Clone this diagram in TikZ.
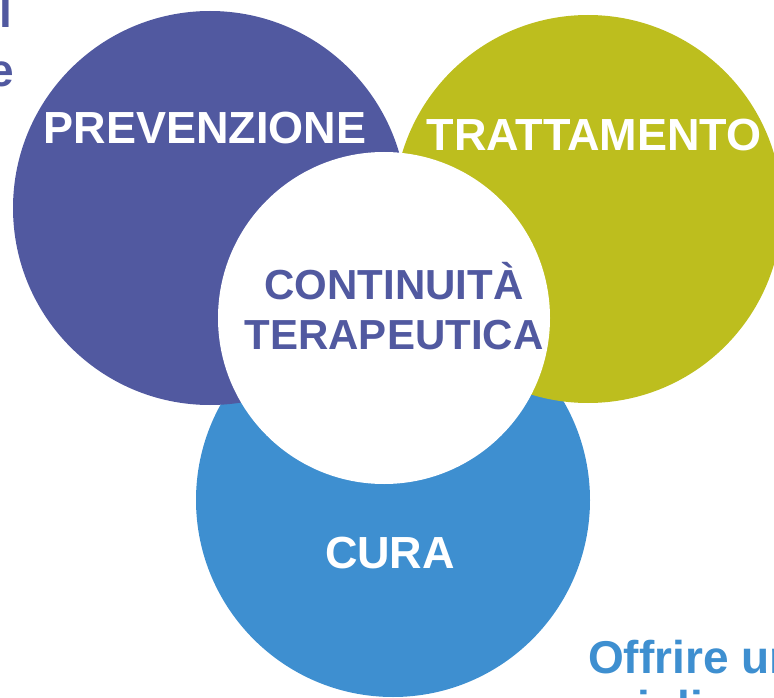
\documentclass[tikz,border=0pt]{standalone}
\usepackage{fontspec}
\setmainfont{Liberation Sans}
\definecolor{prevcol}{RGB}{81,89,160}
\definecolor{tratcol}{RGB}{189,190,30}
\definecolor{curacol}{RGB}{62,143,208}
\tikzset{
  bubble/.style={circle, draw=none, inner sep=0pt, minimum size=#1},
  bigword/.style={text=white, font=\bfseries\fontsize{45}{50}\selectfont},
  midword/.style={text=prevcol, align=center, font=\bfseries\fontsize{42}{50}\selectfont},
  sideword/.style={inner sep=0pt, font=\bfseries\fontsize{46}{50}\selectfont}
}
\begin{document}
\begin{tikzpicture}[x=1pt,y=1pt]
  \clip (0,0) rectangle (774,-698);
  \useasboundingbox (0,0) rectangle (774,-698);
  % the four circles
  \node [bubble=394pt, fill=curacol] (cura) at (393,-500) {};
  \node [bubble=394pt, fill=prevcol] (prev) at (210,-208) {};
  \node [bubble=388pt, fill=tratcol] (trat) at (588,-209) {};
  \node [bubble=332pt, fill=white] (cont) at (384,-318) {};
  % labels
  \node [bigword] (prevtxt) at (205,-128) {PREVENZIONE};
  \node [bigword] (trattxt) at (594,-135) {TRATTAMENTO};
  \node [bigword] (curatxt) at (390,-553) {CURA};
  \node [midword] (conttxt) at (394,-306) {CONTINUITÀ\\TERAPEUTICA};
  % cut-off text at the edges
  \node [sideword, text=prevcol, anchor=base east] (topl) at (12,-28) {l};
  \node [sideword, text=prevcol, anchor=base east] (tope) at (14,-87) {e};
  \node [sideword, text=curacol, anchor=base west] (offr) at (588,-673) {Offrire un};
  \node [sideword, text=curacol, anchor=base west] (migl) at (596,-723) {migliore};
\end{tikzpicture}
\end{document}
